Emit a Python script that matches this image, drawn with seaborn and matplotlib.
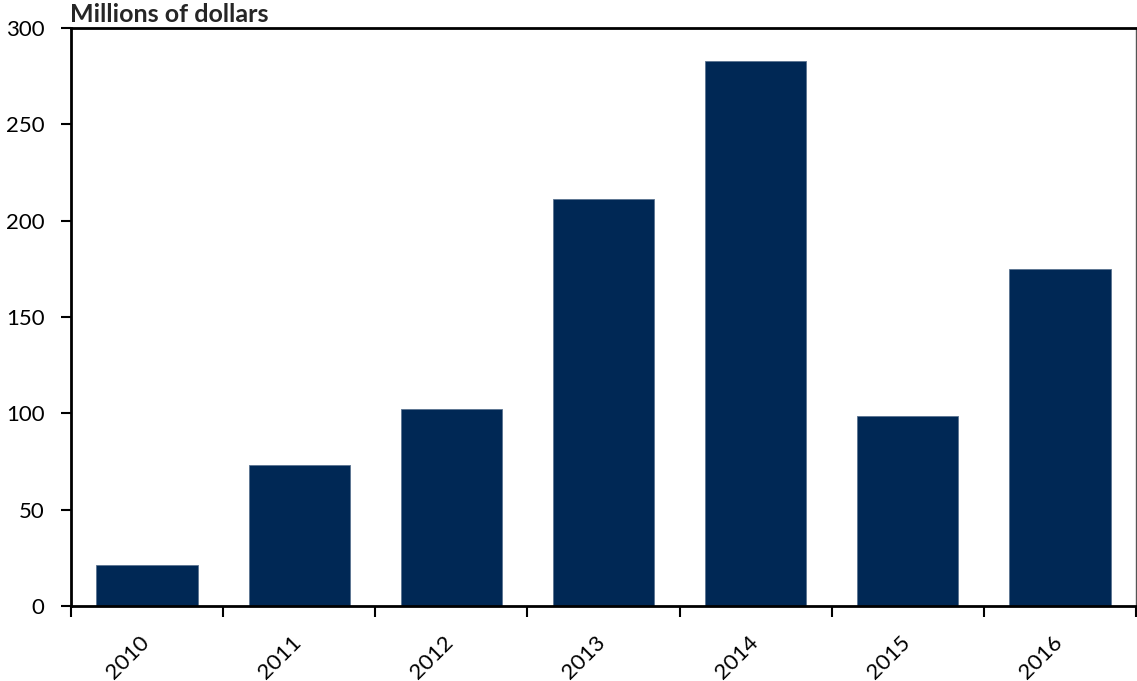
import matplotlib
matplotlib.use("Agg")
import matplotlib.pyplot as plt
import matplotlib.transforms as mtransforms
import seaborn as sns
import pandas as pd
from matplotlib.ticker import FixedLocator

years = ["2010", "2011", "2012", "2013", "2014", "2015", "2016"]
values = [21.5, 73, 102, 211, 283, 98.5, 175]
y_ticks = [0, 50, 100, 150, 200, 250, 300]

sns.set_theme(style="white")
plt.rcParams["font.family"] = ["Lato", "DejaVu Sans"]

df = pd.DataFrame({"year": years, "value": values})

fig = plt.figure(figsize=(11.37, 6.81), dpi=100)
ax = fig.add_axes([71 / 1137, 1 - 606 / 681, (1136 - 71) / 1137, (606 - 28) / 681])

sns.barplot(data=df, x="year", y="value", color="#002855", saturation=1,
            width=0.665, edgecolor="#5a7391", linewidth=0.6, ax=ax)

ax.set_xlim(-0.5, len(years) - 0.5)
ax.set_ylim(0, 300)
ax.set_yticks(y_ticks)
ax.set_yticklabels([str(t) for t in y_ticks], fontsize=16, color="black")
ax.set_xlabel("")
ax.set_ylabel("")

# category labels centred under bars, tick marks at category boundaries
ax.set_xticks(range(len(years)))
ax.set_xticklabels(years, rotation=45, ha="right", rotation_mode="anchor",
                   fontsize=16, color="black")
ax.tick_params(axis="x", which="major", length=0, pad=19)
shift = mtransforms.ScaledTranslation(-8 / 100, 0, fig.dpi_scale_trans)
for lbl in ax.get_xticklabels():
    lbl.set_transform(lbl.get_transform() + shift)
ax.xaxis.set_minor_locator(FixedLocator([i - 0.5 for i in range(len(years) + 1)]))
ax.tick_params(axis="x", which="minor", bottom=True, length=8, width=1.5,
               direction="out", color="black")
ax.tick_params(axis="y", left=True, length=7, width=1.5, direction="out",
               color="black", pad=12)

for side in ["left", "bottom", "top"]:
    ax.spines[side].set_visible(True)
    ax.spines[side].set_color("black")
    ax.spines[side].set_linewidth(2)
ax.spines["right"].set_color("#555555")
ax.spines["right"].set_linewidth(1)

fig.text(70 / 1137, 1 - 14 / 681, "Millions of dollars", fontsize=18,
         fontweight="bold", ha="left", va="center")

fig.savefig("out.png", dpi=100)
